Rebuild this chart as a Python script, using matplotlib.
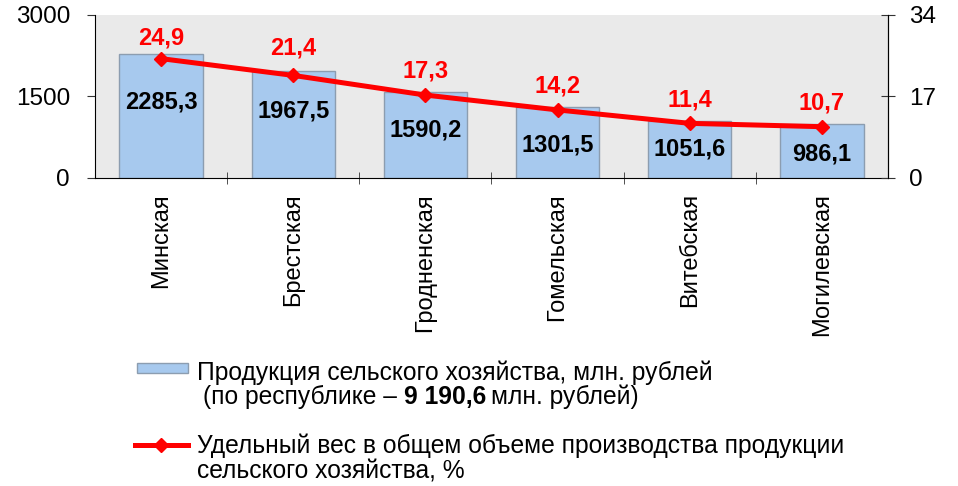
import matplotlib
matplotlib.use("Agg")
import matplotlib.pyplot as plt
from matplotlib.patches import Rectangle
from matplotlib.lines import Line2D

plt.rcParams["font.family"] = ["Liberation Sans", "DejaVu Sans"]

regions = ["Минская", "Брестская", "Гродненская", "Гомельская", "Витебская", "Могилевская"]
production = [2285.3, 1967.5, 1590.2, 1301.5, 1051.6, 986.1]
share = [24.9, 21.4, 17.3, 14.2, 11.4, 10.7]
production_labels = ["2285,3", "1967,5", "1590,2", "1301,5", "1051,6", "986,1"]
share_labels = ["24,9", "21,4", "17,3", "14,2", "11,4", "10,7"]

# label offsets in points
bar_lbl_off = [-35, -29, -28, -27, -20, -21]
line_lbl_off = [15, 20, 17, 17, 17, 17]

W, H = 958, 486
fig = plt.figure(figsize=(W / 100, H / 100), dpi=100)
ax = fig.add_axes([95 / W, 1 - 178 / H, (888 - 95) / W, (178 - 15) / H])
ax.set_facecolor("#EAEAEA")

x = list(range(len(regions)))
ax.bar(x, production, width=0.63, color="#A7C9EE", edgecolor="#8C9DB0", linewidth=1, zorder=2)
ax.set_xlim(-0.5, len(regions) - 0.5)
ax.set_ylim(0, 3000)
ax.set_yticks([0, 1500, 3000])
ax.tick_params(axis="y", direction="out", length=6, pad=12, labelsize=17.5, color="#333333")
ax.set_xticks(x)
ax.set_xticklabels(regions, rotation=90, fontsize=17)
ax.set_xticks([i + 0.5 for i in x[:-1]], minor=True)
ax.tick_params(axis="x", which="major", length=0, pad=11)
ax.tick_params(axis="x", which="minor", direction="inout", length=9, color="#333333")
ax.spines["top"].set_visible(False)
for s in ["left", "bottom"]:
    ax.spines[s].set_color("black")

for xi, v, lab, off in zip(x, production, production_labels, bar_lbl_off):
    ax.annotate(lab, (xi, v), xytext=(0, off), textcoords="offset points",
                ha="center", va="center", fontsize=17, fontweight="bold", color="black", zorder=5)

ax2 = ax.twinx()
ax2.set_ylim(0, 34)
ax2.set_yticks([0, 17, 34])
ax2.tick_params(axis="y", direction="inout", length=10, pad=10, labelsize=17.5, color="#333333")
ax2.spines["top"].set_visible(False)
ax2.spines["left"].set_visible(False)
ax2.spines["bottom"].set_visible(False)
ax2.plot(x, share, color="#FF0000", lw=3.6, marker="D", markersize=7, zorder=4)
for xi, v, lab, off in zip(x, share, share_labels, line_lbl_off):
    ax2.annotate(lab, (xi, v), xytext=(0, off), textcoords="offset points",
                 ha="center", va="center", fontsize=17, fontweight="bold", color="#FF0000")

# legend drawn by hand (mixed bold text)
fig.patches.append(Rectangle((137 / W, 1 - 373 / H), 51 / W, 10 / H, transform=fig.transFigure,
                             facecolor="#A7C9EE", edgecolor="#8C9DB0", lw=1))
fig.lines.append(Line2D([135 / W, 188 / W], [1 - 445 / H, 1 - 445 / H], transform=fig.transFigure,
                        color="#FF0000", lw=3.6))
fig.lines.append(Line2D([161 / W], [1 - 445 / H], transform=fig.transFigure,
                        color="#FF0000", marker="D", markersize=7, lw=0))

fs = 17.7
fig.text(197 / W, 1 - 380 / H, "Продукция сельского хозяйства, млн. рублей", fontsize=fs, va="baseline")
fig.canvas.draw()
r = fig.canvas.get_renderer()
t1 = fig.text(203 / W, 1 - 404 / H, "(по республике – ", fontsize=fs, va="baseline")
x1 = t1.get_window_extent(r).x1
t2 = fig.text(x1 / W, 1 - 404 / H, "9 190,6", fontsize=fs, fontweight="bold", va="baseline")
x2 = t2.get_window_extent(r).x1
fig.text((x2 + 5) / W, 1 - 404 / H, "млн. рублей)", fontsize=fs, va="baseline")
fig.text(197 / W, 1 - 453 / H, "Удельный вес в общем объеме производства продукции", fontsize=fs, va="baseline")
fig.text(197 / W, 1 - 478 / H, "сельского хозяйства, %", fontsize=fs, va="baseline")

fig.savefig("out.png", dpi=100)
